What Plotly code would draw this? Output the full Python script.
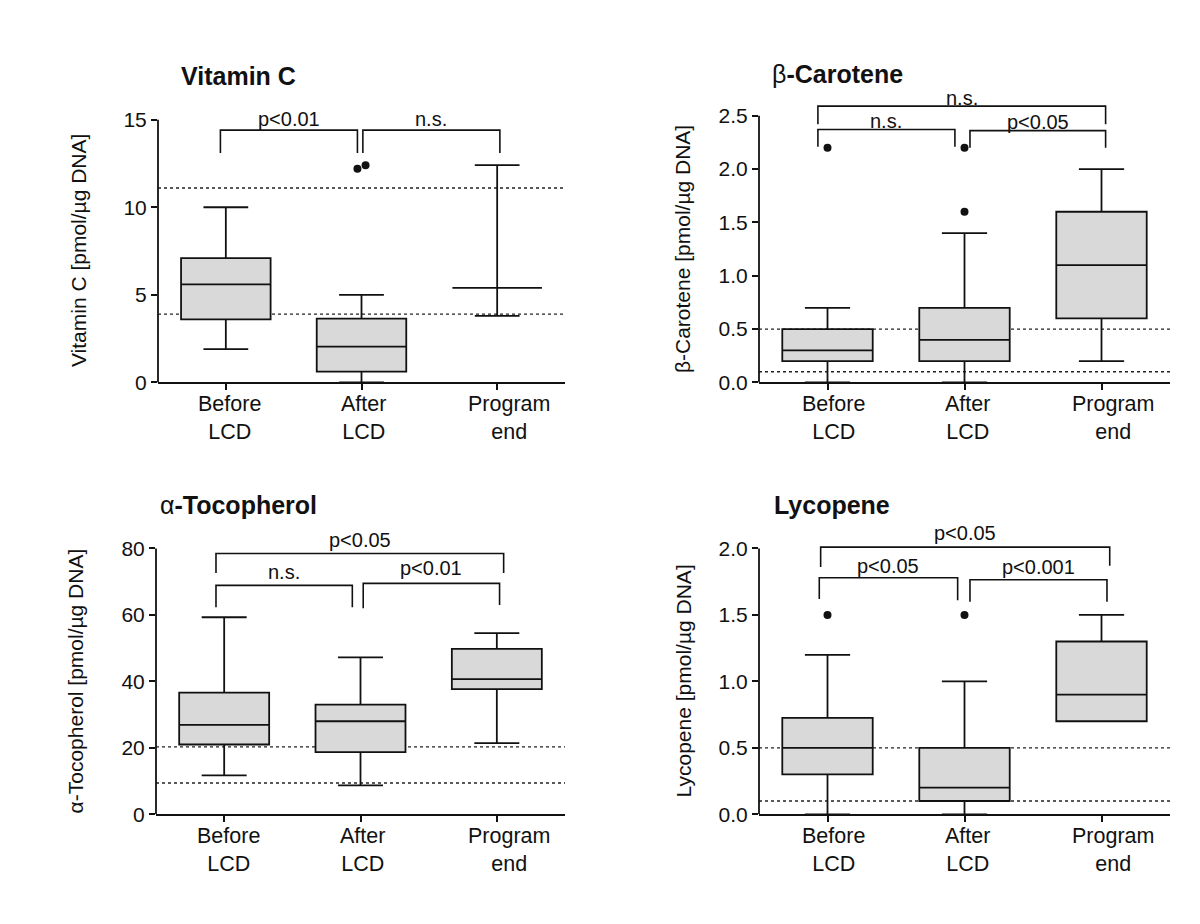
import plotly.graph_objects as go

# ---------------- data ----------------
categories = ["Before<br>LCD", "After<br>LCD", "Program<br>end"]
cat_pos = [0, 1, 2]

# Vitamin C
vitc_lower = [1.9, 0.0, 3.8]
vitc_q1 = [3.6, 0.62, 5.4]
vitc_median = [5.6, 2.05, 5.4]
vitc_q3 = [7.1, 3.65, 5.4]
vitc_upper = [10.0, 5.0, 12.4]
vitc_out_cat = [1, 1]
vitc_out_val = [12.2, 12.4]
vitc_ref = [11.1, 3.9]
vitc_ticks = [0, 5, 10, 15]
# bracket: (x_left, x_right, leg_left_bottom, top, leg_right_bottom, label, label_y)
vitc_brackets = [(-0.04, 0.97, 13.1, 14.4, 13.1, "p<0.01", 15.05),
                 (1.01, 2.02, 13.1, 14.4, 13.1, "n.s.", 15.05)]

# beta-Carotene
bcar_lower = [0.0, 0.0, 0.2]
bcar_q1 = [0.2, 0.2, 0.6]
bcar_median = [0.3, 0.4, 1.1]
bcar_q3 = [0.5, 0.7, 1.6]
bcar_upper = [0.7, 1.4, 2.0]
bcar_out_cat = [0, 1, 1]
bcar_out_val = [2.2, 2.2, 1.6]
bcar_ref = [0.5, 0.1]
bcar_ticks = [0.0, 0.5, 1.0, 1.5, 2.0, 2.5]
bcar_brackets = [(-0.07, 2.03, 2.42, 2.59, 2.42, "n.s.", 2.67),
                 (-0.07, 0.93, 2.21, 2.37, 2.21, "n.s.", 2.45),
                 (1.04, 2.03, 2.20, 2.36, 2.20, "p<0.05", 2.44)]

# alpha-Tocopherol
atoc_lower = [11.7, 8.7, 21.4]
atoc_q1 = [21.0, 18.7, 37.7]
atoc_median = [26.9, 28.0, 40.7]
atoc_q3 = [36.6, 33.0, 49.8]
atoc_upper = [59.3, 47.2, 54.5]
atoc_out_cat = []
atoc_out_val = []
atoc_ref = [20.3, 9.4]
atoc_ticks = [0, 20, 40, 60, 80]
atoc_brackets = [(-0.06, 2.05, 72.6, 78.5, 72.6, "p<0.05", 82.7),
                 (-0.06, 0.94, 62.3, 68.9, 62.3, "n.s.", 72.8),
                 (1.02, 2.02, 62.0, 69.5, 63.0, "p<0.01", 74.2)]

# Lycopene
lyc_lower = [0.0, 0.0, 0.7]
lyc_q1 = [0.3, 0.1, 0.7]
lyc_median = [0.5, 0.2, 0.9]
lyc_q3 = [0.725, 0.5, 1.3]
lyc_upper = [1.2, 1.0, 1.5]
lyc_out_cat = [0, 1]
lyc_out_val = [1.5, 1.5]
lyc_ref = [0.5, 0.1]
lyc_ticks = [0.0, 0.5, 1.0, 1.5, 2.0]
lyc_brackets = [(-0.05, 2.06, 1.86, 2.01, 1.87, "p<0.05", 2.12),
                (-0.06, 0.95, 1.62, 1.78, 1.61, "p<0.05", 1.87),
                (1.04, 2.04, 1.60, 1.765, 1.60, "p<0.001", 1.86)]

# ---------------- layout helpers (pixels in a 1200x924 page) ----------------
W, H = 1200, 924
FONT = "Liberation Sans, Arial, sans-serif"
BLACK = "#111111"
LW = 1.8

panels = [
    dict(title="<b>Vitamin C</b>",
         ytitle="Vitamin C [pmol/µg DNA]",
         lower=vitc_lower, q1=vitc_q1, med=vitc_median, q3=vitc_q3, upper=vitc_upper,
         out_cat=vitc_out_cat, out_val=vitc_out_val, out_jit=[-0.03, 0.03],
         ref=vitc_ref, ticks=vitc_ticks, fmt="d", brackets=vitc_brackets,
         left=150, right=557, zero=379, toptick_px=113, ymax=16.3,
         title_x=171, title_y=69, ytitle_x=70, lab_shift=[4, 2, 12]),
    dict(title="β<b>-Carotene</b>",
         ytitle="β-Carotene [pmol/µg DNA]",
         lower=bcar_lower, q1=bcar_q1, med=bcar_median, q3=bcar_q3, upper=bcar_upper,
         out_cat=bcar_out_cat, out_val=bcar_out_val, out_jit=[0, 0, 0],
         ref=bcar_ref, ticks=bcar_ticks, fmt=".1f", brackets=bcar_brackets,
         left=751, right=1162, zero=379, toptick_px=109, ymax=2.82,
         title_x=762, title_y=67, ytitle_x=674, lab_shift=[6, 3, 11]),
    dict(title="α<b>-Tocopherol</b>",
         ytitle="α-Tocopherol [pmol/µg DNA]",
         lower=atoc_lower, q1=atoc_q1, med=atoc_median, q3=atoc_q3, upper=atoc_upper,
         out_cat=atoc_out_cat, out_val=atoc_out_val, out_jit=[],
         ref=atoc_ref, ticks=atoc_ticks, fmt="d", brackets=atoc_brackets,
         left=148, right=557, zero=816, toptick_px=547, ymax=86.5,
         title_x=150, title_y=503, ytitle_x=67, lab_shift=[4, 2, 12]),
    dict(title="<b>Lycopene</b>",
         ytitle="Lycopene [pmol/µg DNA]",
         lower=lyc_lower, q1=lyc_q1, med=lyc_median, q3=lyc_q3, upper=lyc_upper,
         out_cat=lyc_out_cat, out_val=lyc_out_val, out_jit=[0, 0],
         ref=lyc_ref, ticks=lyc_ticks, fmt=".1f", brackets=lyc_brackets,
         left=751, right=1162, zero=816, toptick_px=547, ymax=2.16,
         title_x=764, title_y=503, ytitle_x=675, lab_shift=[6, 3, 11]),
]

fig = go.Figure()
shapes = []
annotations = []
layout_axes = {}

for i, p in enumerate(panels):
    n = i + 1
    xa = "x" if n == 1 else f"x{n}"
    ya = "y" if n == 1 else f"y{n}"
    xkey = "xaxis" if n == 1 else f"xaxis{n}"
    ykey = "yaxis" if n == 1 else f"yaxis{n}"

    toptick = p["ticks"][-1]
    pxu = (p["zero"] - p["toptick_px"]) / toptick
    top_px = p["zero"] - p["ymax"] * pxu

    layout_axes[xkey] = dict(
        domain=[p["left"] / W, p["right"] / W], anchor=ya,
        range=[-0.5, 2.5], showgrid=False, zeroline=False,
        showline=True, linecolor=BLACK, linewidth=LW,
        ticks="outside", ticklen=6, tickwidth=LW, tickcolor=BLACK,
        tickvals=cat_pos, showticklabels=False, fixedrange=True)
    layout_axes[ykey] = dict(
        domain=[1 - p["zero"] / H, 1 - top_px / H], anchor=xa,
        range=[0, p["ymax"]], showgrid=False, zeroline=False,
        showline=False, ticks="outside", ticklen=6, tickwidth=LW,
        tickcolor=BLACK, tickvals=p["ticks"],
        ticktext=[format(t, p["fmt"]) if p["fmt"] != "d" else str(int(t)) for t in p["ticks"]],
        tickfont=dict(family=FONT, size=21, color=BLACK), fixedrange=True)

    # boxes
    fig.add_trace(go.Box(
        x=cat_pos, q1=p["q1"], median=p["med"], q3=p["q3"],
        lowerfence=p["lower"], upperfence=p["upper"],
        width=0.66, whiskerwidth=0.5, fillcolor="#d9d9d9",
        line=dict(color=BLACK, width=LW), boxpoints=False,
        xaxis=xa, yaxis=ya, showlegend=False, hoverinfo="skip"))

    # outliers
    if p["out_cat"]:
        fig.add_trace(go.Scatter(
            x=[c + j for c, j in zip(p["out_cat"], p["out_jit"])], y=p["out_val"],
            mode="markers", marker=dict(color=BLACK, size=8),
            xaxis=xa, yaxis=ya, showlegend=False, hoverinfo="skip"))

    # significance brackets
    for (bx0, bx1, leg0, top, leg1, lab, laby) in p["brackets"]:
        fig.add_trace(go.Scatter(
            x=[bx0, bx0, bx1, bx1], y=[leg0, top, top, leg1], mode="lines",
            line=dict(color=BLACK, width=1.6), xaxis=xa, yaxis=ya,
            showlegend=False, hoverinfo="skip"))
        annotations.append(dict(
            x=(bx0 + bx1) / 2, y=laby, xref=xa, yref=ya, text=lab,
            showarrow=False, xanchor="center", yanchor="middle",
            font=dict(family=FONT, size=20, color=BLACK)))

    # reference (dotted) lines
    for r in p["ref"]:
        shapes.append(dict(type="line", xref=f"{xa} domain", yref=ya,
                           x0=0, x1=1, y0=r, y1=r, layer="below",
                           line=dict(color="#222222", width=1.4, dash="dot")))

    # y axis line limited to tick range
    shapes.append(dict(type="line", xref=f"{xa} domain", yref=ya,
                       x0=0, x1=0, y0=0, y1=toptick,
                       line=dict(color=BLACK, width=LW)))

    # category labels
    for c, lab, sh in zip(cat_pos, categories, p["lab_shift"]):
        annotations.append(dict(
            x=c, y=0, xref=xa, yref=ya, text=lab, showarrow=False,
            xanchor="center", yanchor="top", yshift=-8, xshift=sh,
            font=dict(family=FONT, size=21.5, color=BLACK)))

    # panel title
    annotations.append(dict(
        x=p["title_x"] / W, y=1 - p["title_y"] / H, xref="paper", yref="paper",
        text=p["title"], showarrow=False, xanchor="left", yanchor="middle",
        font=dict(family=FONT, size=25, color=BLACK)))

    # y-axis title (centered on the tick range)
    mid_px = (p["zero"] + p["toptick_px"]) / 2
    annotations.append(dict(
        x=p["ytitle_x"] / W, y=1 - mid_px / H, xref="paper", yref="paper",
        text=p["ytitle"], showarrow=False, textangle=-90,
        xanchor="center", yanchor="middle",
        font=dict(family=FONT, size=21, color=BLACK)))

fig.update_layout(
    width=W, height=H, margin=dict(l=0, r=0, t=0, b=0),
    paper_bgcolor="white", plot_bgcolor="white",
    showlegend=False, hovermode=False,
    shapes=shapes, annotations=annotations, **layout_axes)

fig.write_html("out.html")
